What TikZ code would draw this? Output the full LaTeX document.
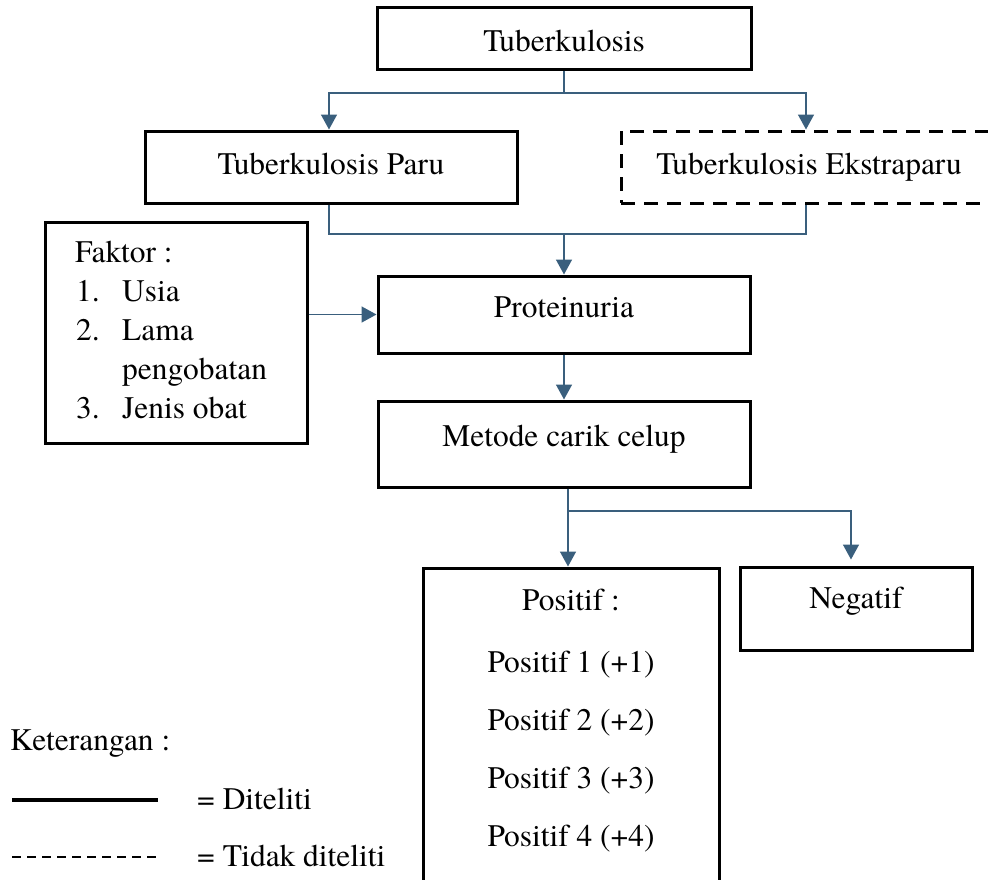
\documentclass[tikz,border=0pt]{standalone}
\usepackage{fontspec}
\IfFontExistsTF{texgyretermes-regular.otf}
  {\setmainfont{texgyretermes}[Extension=.otf,UprightFont=*-regular,BoldFont=*-bold,ItalicFont=*-italic,BoldItalicFont=*-bolditalic]}
  {\setmainfont{Liberation Serif}}
\usetikzlibrary{arrows.meta}
\definecolor{conncol}{RGB}{58,95,125}
\begin{document}
\begin{tikzpicture}[x=1pt,y=-1pt,
  box/.style={draw=black,line width=3pt,inner sep=0pt},
  dbox/.style={box,dash pattern=on 14pt off 9pt},
  conn/.style={draw=conncol,line width=1.6pt},
  arr/.style={conn,-{Triangle[length=15pt,width=16pt]}},
  txt/.style={anchor=base,inner sep=0pt,font=\rmfamily\fontsize{31.4}{38}\selectfont},
  ltxt/.style={txt,anchor=base west},
]
\useasboundingbox (0,0) rectangle (988,879);
\clip (0,0) rectangle (988,879);

% boxes
\node[box,minimum width=374pt,minimum height=62pt] (tb) at (564,38) {};
\node[box,minimum width=372pt,minimum height=72pt] (paru) at (331,167) {};
\node[dbox,minimum width=378pt,minimum height=72pt] (ekstra) at (810,167) {};
\node[box,minimum width=262pt,minimum height=221pt] (faktor) at (176,332.5) {};
\node[box,minimum width=372pt,minimum height=77pt] (prot) at (564,314.5) {};
\node[box,minimum width=372pt,minimum height=86pt] (metode) at (564,444) {};
\node[box,minimum width=296pt,minimum height=332pt] (positif) at (571,734) {};
\node[box,minimum width=232pt,minimum height=83pt] (negatif) at (856,608.5) {};

% texts
\node[txt] (ttb) at (564,51) {Tuberkulosis};
\node[txt] (tparu) at (331,174) {Tuberkulosis Paru};
\node[txt] (tekstra) at (809,174) {Tuberkulosis Ekstraparu};
\node[txt] (tprot) at (564,317) {Proteinuria};
\node[txt] (tmetode) at (564,446) {Metode carik celup};
\node[ltxt] (f0) at (75,262) {Faktor :};
\node[ltxt] (f1n) at (76,301) {1.};
\node[ltxt] (f1) at (122,301) {Usia};
\node[ltxt] (f2n) at (76,340) {2.};
\node[ltxt] (f2) at (122,340) {Lama};
\node[ltxt] (f2b) at (122,379) {pengobatan};
\node[ltxt] (f3n) at (76,418) {3.};
\node[ltxt] (f3) at (122,418) {Jenis obat};
\node[txt] (p0) at (571,610) {Positif :};
\node[txt] (p1) at (571,672) {Positif 1 (+1)};
\node[txt] (p2) at (571,730) {Positif 2 (+2)};
\node[txt] (p3) at (571,788) {Positif 3 (+3)};
\node[txt] (p4) at (571,846) {Positif 4 (+4)};
\node[txt] (tneg) at (856,608) {Negatif};

% connectors
\coordinate (j1) at (564,93);
\coordinate (j2) at (564,234);
\coordinate (m1) at ([xshift=4pt]metode.south);
\coordinate (j3) at (568,511);
\draw[conn] (tb.south) -- (j1);
\draw[arr] (j1) -| ([xshift=-2pt]paru.north);
\draw[arr] (j1) -| ([xshift=-4pt]ekstra.north);
\draw[conn] ([xshift=-2pt]paru.south) |- (j2) -| ([xshift=-4pt]ekstra.south);
\draw[arr] (j2) -- (prot.north);
\draw[arr] (faktor.east |- prot.west) -- (prot.west);
\draw[arr] (prot.south) -- (metode.north);
\draw[arr] (m1) -- (m1 |- positif.north);
\draw[arr,shorten >=6pt] (j3) -| ([xshift=-5pt]negatif.north);

% legend
\node[ltxt] (ket) at (10,750) {Keterangan :};
\coordinate (s1) at (12,800);
\coordinate (s2) at (158,800);
\coordinate (d1) at (12,857);
\coordinate (d2) at (158,857);
\draw[line width=4pt] (s1) -- (s2);
\draw[line width=1.5pt,dash pattern=on 9pt off 6pt] (d1) -- (d2);
\node[ltxt] (ld) at (197,809) {= Diteliti};
\node[ltxt] (ltd) at (197,866) {= Tidak diteliti};
\end{tikzpicture}
\end{document}
